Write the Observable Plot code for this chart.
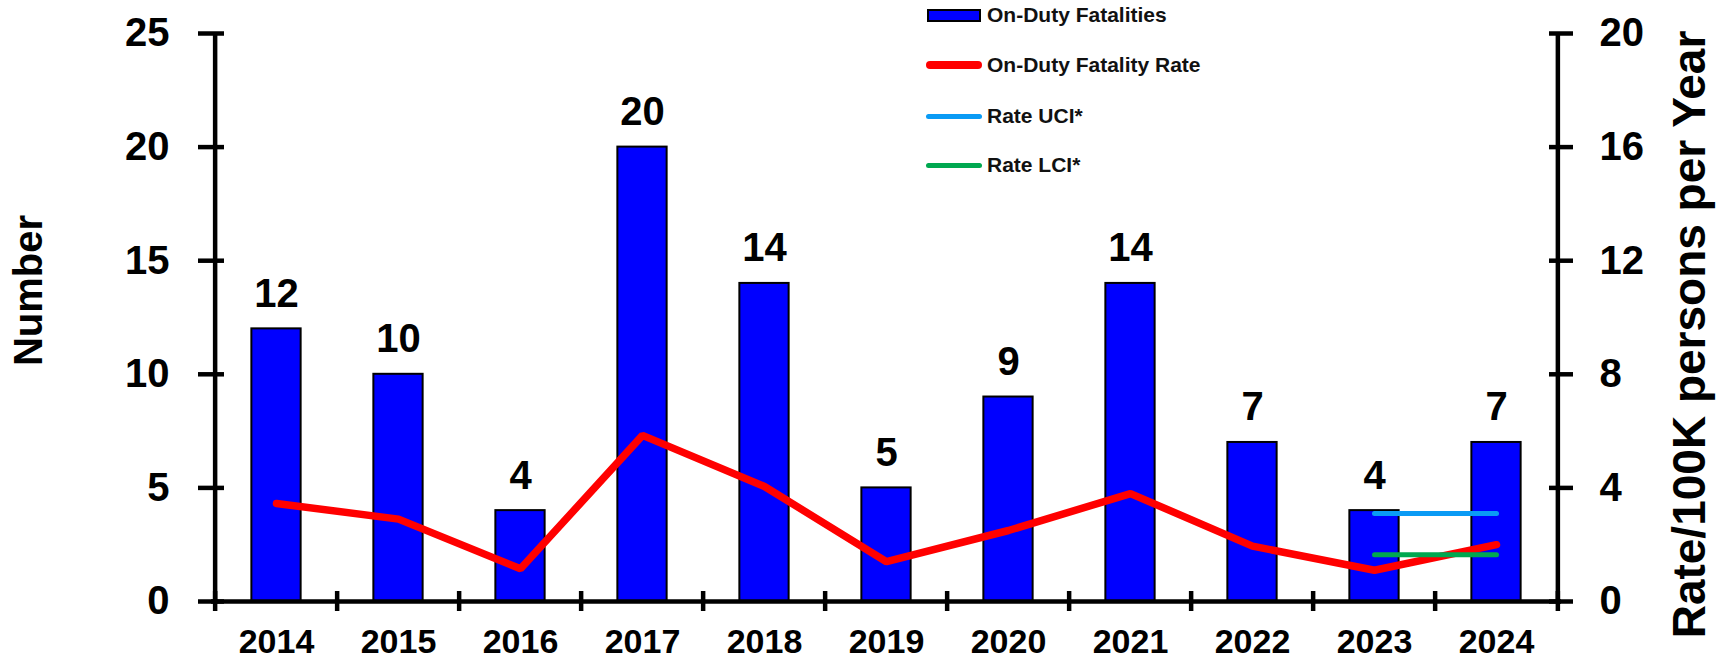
<!DOCTYPE html>
<html>
<head>
<meta charset="utf-8">
<script src="https://cdn.jsdelivr.net/npm/d3@7"></script>
<script src="https://cdn.jsdelivr.net/npm/@observablehq/plot@0.6"></script>
<style>
  body { margin: 0; background: #fff; font-family: "Liberation Sans", Arial, sans-serif; }
  #wrap { position: relative; width: 1725px; height: 657px; }
  #legend { position: absolute; left: 926px; top: 0; font-weight: bold; font-size: 21px; color: #111; }
  .row { position: absolute; left: 0; height: 24px; display: flex; align-items: center; white-space: nowrap; }
  .sw { width: 61px; height: 24px; display: flex; align-items: center; }
</style>
</head>
<body>
<div id="wrap"><div id="legend"></div></div>
<script>
// ---- data ----
const years = [2014, 2015, 2016, 2017, 2018, 2019, 2020, 2021, 2022, 2023, 2024];
const fatalities = [12, 10, 4, 20, 14, 5, 9, 14, 7, 4, 7];
const rates = [3.45, 2.9, 1.15, 5.85, 4.05, 1.4, 2.5, 3.8, 1.95, 1.1, 2.0];
const ciYears = [2023, 2024];
const rateUCI = [3.1, 3.1];
const rateLCI = [1.65, 1.65];
const leftTicks = [0, 5, 10, 15, 20, 25];
const rightTicks = [0, 4, 8, 12, 16, 20];
const leftLabel = "Number";
const rightLabel = "Rate/100K persons per Year";
const legendNames = ["On-Duty Fatalities", "On-Duty Fatality Rate", "Rate UCI*", "Rate LCI*"];

// ---- layout / style ----
const W = 1725, H = 657, mL = 211, mR = 164, mT = 33, mB = 56;
const plotW = W - mL - mR;
const bw = plotW / years.length;
const barW = 50;
const k = 25 / 20; // right axis (rate) mapped onto left axis domain
const AX = 4.5;
const colors = { bar: "#0000FF", rate: "#FF0000", uci: "#0A9BF5", lci: "#00A850" };

const barData = years.map((y, i) => ({ year: y, n: fatalities[i] }));
const rateData = years.map((y, i) => ({ year: y, r: rates[i] * k }));
const uciData = ciYears.map((y, i) => ({ year: y, r: rateUCI[i] * k }));
const lciData = ciYears.map((y, i) => ({ year: y, r: rateLCI[i] * k }));

const chart = Plot.plot({
  width: W, height: H,
  marginLeft: mL, marginRight: mR, marginTop: mT, marginBottom: mB,
  style: { fontFamily: '"Liberation Sans", Arial, sans-serif', fontWeight: "bold", color: "#000", background: "#fff", overflow: "visible" },
  x: { type: "band", domain: years, padding: 0, axis: null },
  y: { domain: [0, 25], axis: null },
  marks: [
    Plot.barY(barData, { x: "year", y: "n", fill: colors.bar, stroke: "#000", strokeWidth: 2,
      insetLeft: (bw - barW) / 2, insetRight: (bw - barW) / 2 }),
    Plot.text(barData, { x: "year", y: "n", text: d => String(d.n), lineAnchor: "bottom", dy: -22,
      fontSize: 40, fontWeight: "bold", fill: "#000" }),
    Plot.lineY(rateData, { x: "year", y: "r", stroke: colors.rate, strokeWidth: 7.5, strokeLinecap: "round", strokeLinejoin: "miter" }),
    Plot.lineY(uciData, { x: "year", y: "r", stroke: colors.uci, strokeWidth: 5, strokeLinecap: "round" }),
    Plot.lineY(lciData, { x: "year", y: "r", stroke: colors.lci, strokeWidth: 5, strokeLinecap: "round" }),
    // axis lines
    Plot.ruleY([0], { stroke: "#000", strokeWidth: AX }),
    Plot.ruleX([years[0]], { y1: 0, y2: 25, dx: -bw / 2, stroke: "#000", strokeWidth: AX }),
    Plot.ruleX([years[years.length - 1]], { y1: 0, y2: 25, dx: bw / 2, stroke: "#000", strokeWidth: AX }),
    // x ticks at band boundaries (crossing the axis)
    Plot.ruleX(years, { x: d => d, y1: 0, y2: 0, dx: -bw / 2, insetTop: -10, insetBottom: -10, stroke: "#000", strokeWidth: AX }),
    Plot.ruleX([years[years.length - 1]], { x: d => d, y1: 0, y2: 0, dx: bw / 2, insetTop: -10, insetBottom: -10, stroke: "#000", strokeWidth: AX }),
    // left y ticks (crossing)
    Plot.ruleY(leftTicks, { y: d => d, insetLeft: -13, insetRight: plotW - 13, stroke: "#000", strokeWidth: AX }),
    // right y ticks (crossing)
    Plot.ruleY(rightTicks, { y: d => d * k, insetLeft: plotW - 12, insetRight: -12, stroke: "#000", strokeWidth: AX }),
    // tick labels
    Plot.text(leftTicks, { y: d => d, text: d => String(d), frameAnchor: "left", textAnchor: "end", dx: -42, fontSize: 40, fontWeight: "bold", fill: "#000" }),
    Plot.text(rightTicks, { y: d => d * k, text: d => String(d), frameAnchor: "right", textAnchor: "start", dx: 38, fontSize: 40, fontWeight: "bold", fill: "#000" }),
    Plot.text(years, { x: d => d, text: d => String(d), frameAnchor: "bottom", lineAnchor: "top", dy: 27, fontSize: 34, fontWeight: "bold", fill: "#000" }),
    // axis titles
    Plot.text([leftLabel], { text: d => d, frameAnchor: "left", rotate: -90, textAnchor: "middle", lineAnchor: "middle", dx: -182, dy: -27, fontSize: 40, fontWeight: "bold", fill: "#000" }),
    Plot.text([rightLabel], { text: d => d, frameAnchor: "right", rotate: -90, textAnchor: "middle", lineAnchor: "middle", dx: 129, dy: 17, fontSize: 46, fontWeight: "bold", fill: "#000" })
  ]
});
document.getElementById("wrap").prepend(chart);

// ---- legend (HTML, overlaid at top) ----
const legend = d3.select("#legend");
const rowCenters = [15, 65, 116, 165];
const swatchKinds = [
  { kind: "bar", color: colors.bar },
  { kind: "line", color: colors.rate, h: 7.5 },
  { kind: "line", color: colors.uci, h: 5 },
  { kind: "line", color: colors.lci, h: 5 }
];
legendNames.forEach((name, i) => {
  const row = legend.append("div").attr("class", "row").style("top", (rowCenters[i] - 12) + "px");
  const sw = row.append("div").attr("class", "sw");
  const s = swatchKinds[i];
  if (s.kind === "bar") {
    sw.append("div").style("width", "54px").style("height", "13px").style("margin-left", "1px")
      .style("box-sizing", "border-box").style("background", s.color).style("border", "2px solid #000");
  } else {
    sw.append("div").style("width", "56px").style("height", s.h + "px")
      .style("border-radius", "4px").style("background", s.color);
  }
  row.append("span").text(name);
});
</script>
</body>
</html>
